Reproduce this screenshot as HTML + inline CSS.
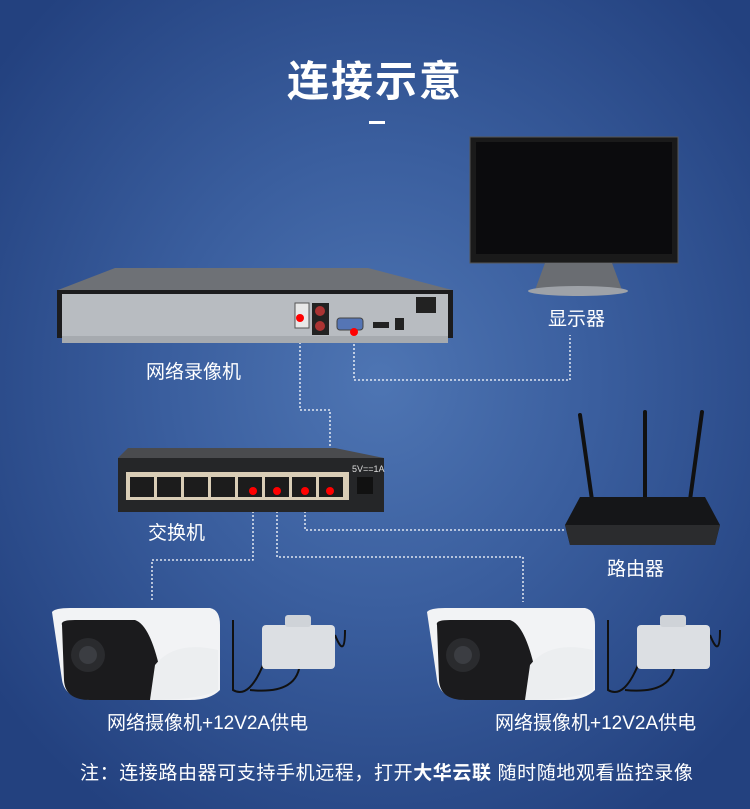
<!DOCTYPE html>
<html><head><meta charset="utf-8"><style>
body{margin:0}
#c{position:relative;width:750px;height:809px;overflow:hidden;background:radial-gradient(ellipse 480px 520px at 380px 380px,#4e75b3 0%,#3a5e9e 45%,#23417f 100%);font-family:"Liberation Sans","Noto Sans CJK SC",sans-serif;color:#fff}
.t{position:absolute;white-space:nowrap}
</style></head><body><div id="c">
<div class="t" style="left:0;width:750px;text-align:center;top:48px;font-size:42px;font-weight:bold;letter-spacing:2px">连接示意</div>
<div style="position:absolute;left:369px;top:121px;width:16px;height:3px;background:#fff"></div>
<svg width="750" height="809" style="position:absolute;left:0;top:0">
<g fill="none" stroke="#fff" stroke-width="1.3" stroke-dasharray="2,2">
<path d="M300 318V410H330V490"/>
<path d="M354 332V380H570V335"/>
<path d="M305 491V530H565"/>
<path d="M253 491V560H152V602"/>
<path d="M277 491V557H523V602"/>
</g>
<rect x="470" y="137" width="208" height="126" fill="#1a1a1a" stroke="#555" stroke-width="1"/>
<rect x="476" y="142" width="196" height="112" fill="#0b0b0d"/>
<path d="M545 263L535 290H622L612 263Z" fill="#6a6d72"/>
<ellipse cx="578" cy="291" rx="50" ry="5" fill="#9ea2a8"/>
<path d="M115 268H368L452 290H58Z" fill="#6e7176"/>
<rect x="57" y="290" width="396" height="48" fill="#1c1c1e"/>
<rect x="62" y="294" width="386" height="42" fill="#b8bcc1"/>
<rect x="62" y="336" width="386" height="7" fill="#a6aaaf"/>
<rect x="295" y="303" width="14" height="25" fill="#e8e8e8" stroke="#555"/>
<rect x="312" y="303" width="17" height="32" fill="#222"/>
<circle cx="320" cy="311" r="5" fill="#a33"/><circle cx="320" cy="326" r="5" fill="#a33"/>
<rect x="337" y="318" width="26" height="12" rx="3" fill="#5575b5" stroke="#444"/>
<rect x="373" y="322" width="16" height="6" fill="#222"/>
<rect x="395" y="318" width="9" height="12" fill="#222"/>
<rect x="416" y="297" width="20" height="16" fill="#222"/>
<circle cx="300" cy="318" r="4" fill="#f00"/><circle cx="354" cy="332" r="4" fill="#f00"/>
<path d="M128 448H335L384 458H118Z" fill="#4a4b4e"/>
<rect x="118" y="458" width="266" height="54" fill="#252628"/>
<rect x="126" y="472" width="223" height="28" fill="#d9cdb6"/>
<g fill="#1c1c1c">
<rect x="130" y="477" width="24" height="20"/><rect x="157" y="477" width="24" height="20"/><rect x="184" y="477" width="24" height="20"/><rect x="211" y="477" width="24" height="20"/><rect x="238" y="477" width="24" height="20"/><rect x="265" y="477" width="24" height="20"/><rect x="292" y="477" width="24" height="20"/><rect x="319" y="477" width="24" height="20"/>
<rect x="357" y="477" width="16" height="17" fill="#111"/>
</g>
<circle cx="253" cy="491" r="4" fill="#f00"/><circle cx="277" cy="491" r="4" fill="#f00"/><circle cx="305" cy="491" r="4" fill="#f00"/><circle cx="330" cy="491" r="4" fill="#f00"/>
<text x="352" y="472" font-size="9" fill="#ddd" font-family="Liberation Sans">5V==1A</text>
<g stroke="#111" stroke-width="4" stroke-linecap="round"><path d="M580 415L592 500"/><path d="M645 412L645 500"/><path d="M702 412L690 500"/></g>
<path d="M580 497H705L720 525L715 545H570L565 525Z" fill="#151618"/>
<path d="M565 525H720L715 545H570Z" fill="#2b2c2e"/>
<g id="cam">
<path d="M52 612Q55 608 70 608H210Q220 610 220 625V690Q210 700 190 700H95Q65 700 62 680Z" fill="#f2f3f5"/>
<path d="M62 625Q60 620 75 620H135Q150 625 160 670Q175 700 150 700H90Q65 700 64 680Z" fill="#1b1b1d"/>
<path d="M155 665Q175 640 218 650V690Q200 700 150 700Z" fill="#eceef0"/>
<circle cx="88" cy="655" r="17" fill="#2a2b2e"/><circle cx="88" cy="655" r="9" fill="#3b3d42"/>
<path d="M233 620V690Q250 700 265 660M335 635Q345 660 345 630M300 660Q300 695 250 690" stroke="#111" stroke-width="2" fill="none"/>
<rect x="262" y="625" width="73" height="44" rx="4" fill="#dcdfe3"/>
<rect x="285" y="615" width="26" height="12" rx="3" fill="#cfd3d8"/>
</g>
<use href="#cam" x="375" y="0"/>
</svg>
<div class="t" style="left:548px;top:304px;font-size:19px">显示器</div>
<div class="t" style="left:146px;top:357px;font-size:19px">网络录像机</div>
<div class="t" style="left:148px;top:518px;font-size:19px">交换机</div>
<div class="t" style="left:607px;top:554px;font-size:19px">路由器</div>
<div class="t" style="left:107px;top:708px;font-size:19px">网络摄像机+12V2A供电</div>
<div class="t" style="left:495px;top:708px;font-size:19px">网络摄像机+12V2A供电</div>
<div class="t" style="left:80px;top:758px;font-size:19px;letter-spacing:0.6px">注：连接路由器可支持手机远程，打开<b>大华云联</b> 随时随地观看监控录像</div>
</div></body></html>
